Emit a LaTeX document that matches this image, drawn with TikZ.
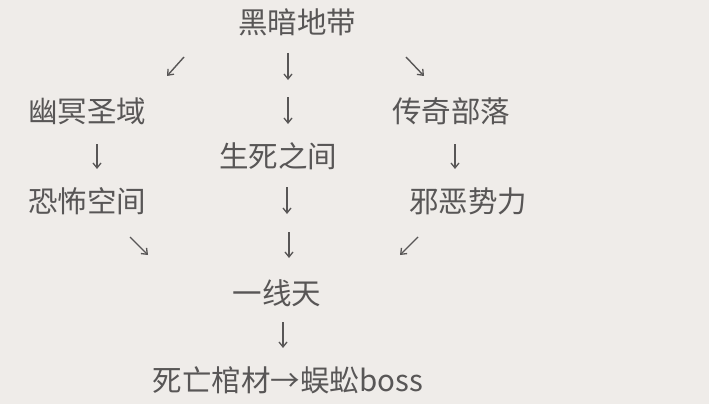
\documentclass[tikz,border=0pt]{standalone}
\usepackage{fontspec}
\setmainfont{Noto Sans CJK SC}
\usetikzlibrary{arrows.meta}
\definecolor{bgc}{HTML}{EFECE9}
\definecolor{txt}{HTML}{585656}
\begin{document}
\begin{tikzpicture}[x=1pt,y=-1pt,
  lbl/.style={text=txt,font=\fontsize{29.5}{31}\selectfont,inner sep=0pt,anchor=center},
  arr/.style={draw=txt,line width=1.4pt,-{Straight Barb[length=5pt,width=8pt,line width=1.3pt]}}]
\fill[bgc] (0,0) rectangle (709,404);
\fill[white] (709,0) rectangle (720,404);
\useasboundingbox (0,0) rectangle (720,404);
% nodes
\node[lbl] (hadd) at (297,22) {黑暗地带};
\node[lbl] (ymsy) at (87,111) {幽冥圣域};
\node[lbl] (cqbl) at (451,111) {传奇部落};
\node[lbl] (sszj) at (278,156) {生死之间};
\node[lbl] (kbkj) at (87,201) {恐怖空间};
\node[lbl] (xesl) at (468,201) {邪恶势力};
\node[lbl] (yxt) at (277,293) {一线天};
\node[lbl] (swgc) at (288,380) {死亡棺材→蜈蚣boss};
% arrow end points
\coordinate (a1s) at (184,57);  \coordinate (a1e) at (167,76);
\coordinate (a2s) at (288,53);  \coordinate (a2e) at (288,80);
\coordinate (a3s) at (406,57);  \coordinate (a3e) at (424,76);
\coordinate (a4s) at (288,97);  \coordinate (a4e) at (288,124);
\coordinate (a5s) at (97,144);  \coordinate (a5e) at (97,169);
\coordinate (a6s) at (455,144); \coordinate (a6e) at (455,169);
\coordinate (a7s) at (287,187); \coordinate (a7e) at (287,214);
\coordinate (a8s) at (130,237); \coordinate (a8e) at (148,255);
\coordinate (a9s) at (289,232); \coordinate (a9e) at (289,258);
\coordinate (a10s) at (418,237);\coordinate (a10e) at (400,255);
\coordinate (a11s) at (283,322);\coordinate (a11e) at (283,348);
\foreach \i in {1,...,11} \draw[arr] (a\i s) -- (a\i e);
\end{tikzpicture}
\end{document}
